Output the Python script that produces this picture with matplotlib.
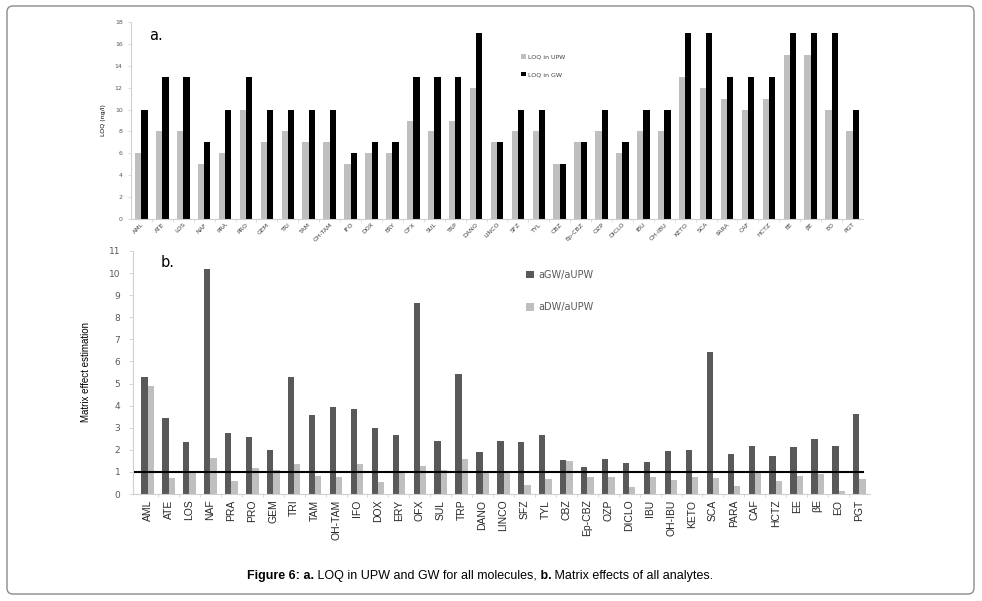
"""Figure 6: LOQ in UPW / GW and matrix effects for all analytes."""

import numpy as np
import matplotlib
matplotlib.use("Agg")
import matplotlib.pyplot as plt
from matplotlib.patches import FancyBboxPatch
from matplotlib.transforms import IdentityTransform

molecules = ["AML", "ATE", "LOS", "NAF", "PRA", "PRO", "GEM", "TRI", "TAM", "OH-TAM",
             "IFO", "DOX", "ERY", "OFX", "SUL", "TRP", "DANO", "LINCO", "SFZ", "TYL",
             "CBZ", "Ep-CBZ", "OZP", "DICLO", "IBU", "OH-IBU", "KETO", "SCA", "PARA",
             "CAF", "HCTZ", "EE", "βE", "EO", "PGT"]

# panel a: LOQ (ng/l)
loq_upw = [6, 8, 8, 5, 6, 10, 7, 8, 7, 7, 5, 6, 6, 9, 8, 9, 12, 7, 8, 8,
           5, 7, 8, 6, 8, 8, 13, 12, 11, 10, 11, 15, 15, 10, 8]
loq_gw = [10, 13, 13, 7, 10, 13, 10, 10, 10, 10, 6, 7, 7, 13, 13, 13, 17, 7, 10, 10,
          5, 7, 10, 7, 10, 10, 17, 17, 13, 13, 13, 17, 17, 17, 10]

# panel b: matrix effect estimation
gw_upw = [5.31, 3.44, 2.36, 10.2, 2.74, 2.6, 1.98, 5.31, 3.59, 3.94,
          3.83, 2.99, 2.65, 8.65, 2.4, 5.45, 1.92, 2.41, 2.35, 2.69,
          1.53, 1.24, 1.57, 1.39, 1.44, 1.95, 1.97, 6.41, 1.83, 2.18,
          1.74, 2.14, 2.47, 2.17, 3.63]
dw_upw = [4.87, 0.71, 0.98, 1.61, 0.57, 1.19, 1.08, 1.35, 0.81, 0.77,
          1.38, 0.53, 0.97, 1.25, 1.08, 1.6, 0.97, 0.97, 0.4, 0.7,
          1.5, 0.79, 0.76, 0.34, 0.79, 0.64, 0.79, 0.72, 0.37, 0.93,
          0.61, 0.82, 0.89, 0.12, 0.67]

AXIS_GREY = "#d0d0d0"
TICK_GREY = "#595959"
NARROW = "Liberation Sans"


def style_axis(ax):
    for side in ("top", "right"):
        ax.spines[side].set_visible(False)
    for side in ("left", "bottom"):
        ax.spines[side].set_color(AXIS_GREY)
        ax.spines[side].set_linewidth(0.8)


def main() -> None:
    fig = plt.figure(figsize=(9.82, 6.01), dpi=100)
    x = np.arange(len(molecules))
    w = 0.3

    # ---- panel a ----
    ax1 = fig.add_axes([0.1334, 0.6356, 0.7454, 0.3278])
    ax1.bar(x - w / 2, loq_upw, w, color="#bfbfbf", label="LOQ in UPW")
    ax1.bar(x + w / 2, loq_gw, w, color="black", label="LOQ in GW")
    ax1.set_xlim(-0.5, len(molecules) - 0.5)
    ax1.set_ylim(0, 18)
    ax1.set_yticks(range(0, 19, 2))
    ax1.set_xticks(x)
    ax1.set_xticklabels(molecules, rotation=45, ha="right", rotation_mode="anchor",
                        fontsize=4.5, color="#404040")
    ax1.tick_params(axis="y", labelsize=4.5, labelcolor=TICK_GREY, length=2,
                    width=0.5, color=AXIS_GREY, pad=4)
    ax1.tick_params(axis="x", length=0, pad=2)
    ax1.set_xticks(x[:-1] + 0.5, minor=True)
    ax1.tick_params(axis="x", which="minor", length=2, width=0.5, color=AXIS_GREY)
    style_axis(ax1)
    ax1.set_ylabel("LOQ (ng/l)", fontsize=4.5, labelpad=6)
    ax1.text(0.025, 0.97, "a.", transform=ax1.transAxes, fontsize=10.5,
             va="top", ha="left")
    ax1.legend(loc="upper left", bbox_to_anchor=(0.527, 0.915),
               bbox_transform=fig.transFigure, frameon=False, fontsize=4.5,
               handlelength=0.8, handleheight=0.8, handletextpad=0.3,
               labelspacing=1.9, borderpad=0, labelcolor="#404040")

    # ---- panel b ----
    ax2 = fig.add_axes([0.1354, 0.178, 0.7505, 0.4044])
    ax2.bar(x - w / 2, gw_upw, w, color="#595959", label="aGW/aUPW")
    ax2.bar(x + w / 2, dw_upw, w, color="#bfbfbf", label="aDW/aUPW")
    ax2.axhline(1, xmin=0, xmax=0.99, color="black", linewidth=1.5)
    ax2.set_xlim(-0.7, len(molecules) - 0.5)
    ax2.set_ylim(0, 11)
    ax2.set_yticks(range(0, 12))
    ax2.set_xticks(x)
    ax2.set_xticklabels(molecules, rotation=90, fontsize=7.5, family=NARROW,
                        color="#262626")
    ax2.tick_params(axis="y", labelsize=6.5, labelcolor=TICK_GREY, length=3,
                    width=0.6, color=AXIS_GREY, pad=6)
    ax2.tick_params(axis="x", length=0, pad=4)
    ax2.set_xticks(x[:-1] + 0.5, minor=True)
    ax2.tick_params(axis="x", which="minor", length=2.5, width=0.6, color=AXIS_GREY)
    style_axis(ax2)
    ax2.set_ylabel("Matrix effect estimation", fontsize=7, family=NARROW, labelpad=13)
    ax2.text(0.037, 0.985, "b.", transform=ax2.transAxes, fontsize=10.5,
             va="top", ha="left")
    ax2.legend(loc="upper left", bbox_to_anchor=(0.531, 0.559),
               bbox_transform=fig.transFigure, frameon=False, fontsize=7,
               handlelength=0.8, handleheight=0.8, handletextpad=0.4,
               labelspacing=2.3, borderpad=0, labelcolor=TICK_GREY)

    # ---- caption with mixed weights ----
    pieces = [("Figure 6:", "bold"), (" a.", "bold"),
              (" LOQ in UPW and GW for all molecules,", "normal"),
              (" b.", "bold"), (" Matrix effects of all analytes.", "normal")]
    caption = [fig.text(0.2515, 0.036, txt, fontsize=9, family="Liberation Sans",
                        weight=wt, va="baseline", ha="left") for txt, wt in pieces]
    # chain the pieces horizontally
    fig.canvas.draw()
    renderer = fig.canvas.get_renderer()
    x0 = caption[0].get_window_extent(renderer).x1
    for t in caption[1:]:
        t.set_x(x0 / fig.bbox.width)
        x0 = t.get_window_extent(renderer).x1

    # ---- outer rounded border ----
    border = FancyBboxPatch((7, 7), 967, 588, boxstyle="round,pad=0,rounding_size=6",
                            transform=IdentityTransform(), facecolor="none",
                            edgecolor="#8c8c8c", linewidth=1.0)
    fig.patches.append(border)

    fig.savefig("out.png", dpi=100)


if __name__ == "__main__":
    main()
